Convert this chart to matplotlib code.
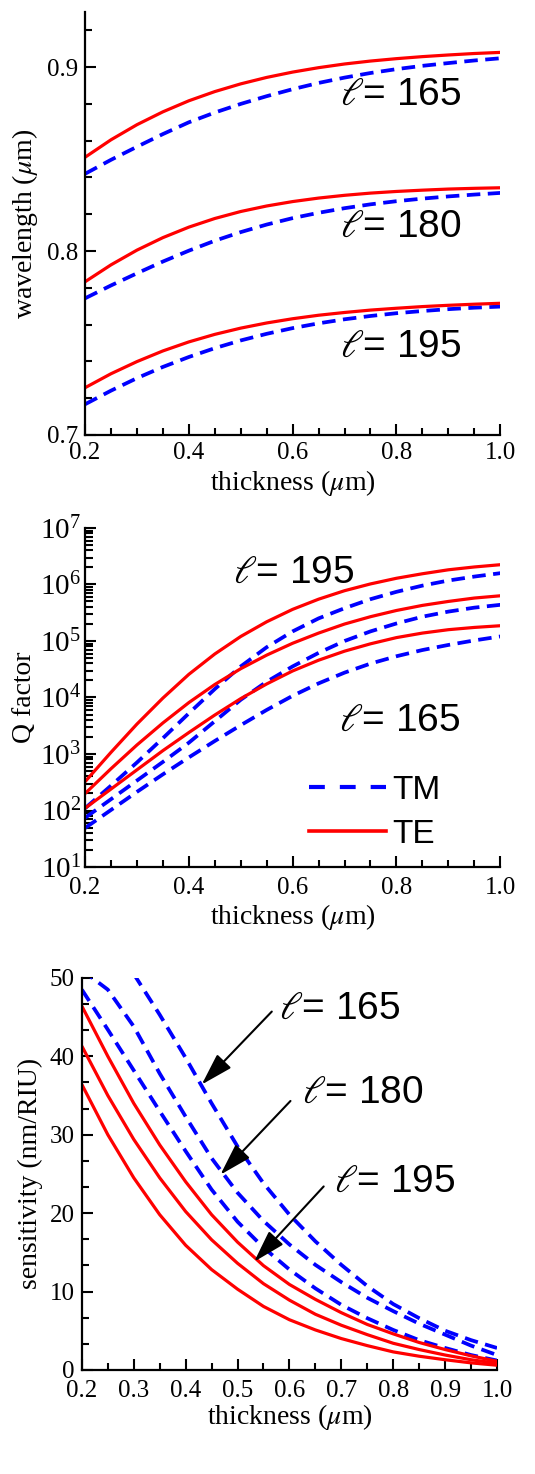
"""
Resonance wavelength, Q factor and sensitivity vs. layer thickness
for TE / TM modes of order l = 165, 180, 195.
"""

import matplotlib
matplotlib.use('Agg')
import matplotlib.pyplot as plt
from matplotlib.lines import Line2D
from matplotlib.ticker import (MultipleLocator, FormatStrFormatter, LogLocator,
                               LogFormatterMathtext, NullFormatter)
import numpy as np

plt.rcParams['font.family'] = 'Liberation Serif'
plt.rcParams['mathtext.fontset'] = 'stix'

# thickness grid (um)
thickness = [0.2, 0.25, 0.3, 0.35, 0.4, 0.45, 0.5, 0.55, 0.6,
             0.65, 0.7, 0.75, 0.8, 0.85, 0.9, 0.95, 1.0]

# --- resonance wavelength (um) ---
wl_te165 = [0.851, 0.8605, 0.8687, 0.8757, 0.8817, 0.8867, 0.8909, 0.8944, 0.8973,
            0.8997, 0.9017, 0.9033, 0.9046, 0.9057, 0.9066, 0.9074, 0.908]
wl_tm165 = [0.842, 0.8496, 0.8567, 0.8636, 0.8700, 0.8753, 0.8800, 0.8842, 0.8880,
            0.8914, 0.8943, 0.8968, 0.8989, 0.9007, 0.9022, 0.9036, 0.9048]
wl_te180 = [0.7833, 0.7925, 0.8005, 0.8073, 0.8130, 0.8177, 0.8215, 0.8245, 0.8269,
            0.8288, 0.8303, 0.8315, 0.8324, 0.8331, 0.8337, 0.8341, 0.8344]
wl_tm180 = [0.7743, 0.7813, 0.7879, 0.7943, 0.8002, 0.8056, 0.8103, 0.8144, 0.8179,
            0.8208, 0.8233, 0.8254, 0.8271, 0.8285, 0.8297, 0.8307, 0.8316]
wl_te195 = [0.7257, 0.7333, 0.7399, 0.7457, 0.7506, 0.7547, 0.7581, 0.7609, 0.7632,
            0.7651, 0.7666, 0.7679, 0.7689, 0.7698, 0.7705, 0.7711, 0.7716]
wl_tm195 = [0.7167, 0.7241, 0.7309, 0.7370, 0.7424, 0.7472, 0.7514, 0.7550, 0.7581,
            0.7607, 0.7629, 0.7647, 0.7662, 0.7674, 0.7684, 0.7692, 0.7698]

# --- Q factor, stored as log10(Q) ---
logq_te195 = [2.51, 3.03, 3.53, 3.99, 4.41, 4.77, 5.08, 5.34, 5.56,
              5.74, 5.89, 6.01, 6.11, 6.19, 6.26, 6.31, 6.35]
logq_tm195 = [2.04, 2.44, 2.85, 3.28, 3.72, 4.15, 4.55, 4.89, 5.17,
              5.40, 5.58, 5.74, 5.87, 5.98, 6.07, 6.14, 6.20]
logq_te180 = [2.30, 2.74, 3.16, 3.55, 3.91, 4.23, 4.51, 4.75, 4.96,
              5.14, 5.30, 5.43, 5.54, 5.63, 5.70, 5.76, 5.80]
logq_tm180 = [1.87, 2.20, 2.53, 2.86, 3.20, 3.58, 3.96, 4.28, 4.55,
              4.79, 5.00, 5.17, 5.31, 5.43, 5.52, 5.59, 5.64]
logq_te165 = [2.04, 2.38, 2.72, 3.06, 3.38, 3.69, 3.98, 4.24, 4.47,
              4.66, 4.82, 4.95, 5.06, 5.14, 5.20, 5.24, 5.27]
logq_tm165 = [1.69, 2.01, 2.33, 2.64, 2.94, 3.23, 3.51, 3.78, 4.03,
              4.25, 4.44, 4.60, 4.73, 4.84, 4.93, 5.01, 5.08]

# --- sensitivity (nm/RIU) ---
sens_te_a = [36.4, 30.0, 24.5, 19.8, 15.9, 12.8, 10.3, 8.1, 6.4,
             5.1, 4.0, 3.1, 2.3, 1.75, 1.3, 0.9, 0.6]
sens_te_b = [41.3, 35.0, 29.4, 24.5, 20.2, 16.6, 13.6, 11.0, 8.9,
             7.1, 5.7, 4.5, 3.4, 2.6, 1.9, 1.3, 0.85]
sens_te_c = [46.4, 40.0, 34.0, 28.7, 24.0, 19.8, 16.3, 13.3, 10.9,
             9.0, 7.3, 5.8, 4.6, 3.5, 2.6, 1.8, 1.1]
sens_tm_a = [48.5, 43.4, 38.2, 33.0, 27.9, 23.0, 18.9, 15.6, 12.8,
             10.4, 8.3, 6.6, 5.1, 3.8, 2.8, 1.9, 1.2]
sens_tm_b = [51.0, 48.5, 43.8, 37.8, 32.3, 27.0, 22.6, 19.0, 16.0,
             13.4, 11.2, 9.2, 7.5, 5.9, 4.5, 3.1, 1.9]
sens_tm_c = [np.nan, np.nan, 50.5, 45.3, 39.8, 34.0, 28.5, 23.8, 19.8,
             16.4, 13.4, 10.7, 8.4, 6.6, 5.0, 3.8, 2.8]

order_labels = ['165', '180', '195']

RED = '#ff0000'
BLUE = '#0000ff'
TE_STYLE = dict(color=RED, lw=2.3, solid_capstyle='butt')
TM_STYLE = dict(color=BLUE, lw=2.7, ls=(0, (3.6, 2.0)), dash_capstyle='butt')
SANS = 'Liberation Sans'
ELL = r'$\ell$= '
TICK_SIZE = 18
LABEL_SIZE = 20
NOTE_SIZE = 28


def style_axes(ax):
    for s in ['top', 'right']:
        ax.spines[s].set_visible(False)
    for s in ['left', 'bottom']:
        ax.spines[s].set_linewidth(1.6)
    ax.tick_params(which='both', direction='in', width=1.5, labelsize=TICK_SIZE,
                   top=False, right=False)
    ax.tick_params(which='major', length=8, pad=5)
    ax.tick_params(which='minor', length=5)


fig = plt.figure(figsize=(5.35, 14.74), dpi=100)
ax1 = fig.add_axes([0.159, 0.7049, 0.776, 0.287])
ax2 = fig.add_axes([0.159, 0.4118, 0.776, 0.230])
ax3 = fig.add_axes([0.153, 0.0706, 0.776, 0.266])

# Top - wavelength
for te, tm in [(wl_te165, wl_tm165), (wl_te180, wl_tm180), (wl_te195, wl_tm195)]:
    ax1.plot(thickness, tm, **TM_STYLE)
    ax1.plot(thickness, te, **TE_STYLE)
ax1.set_xlim(0.2, 1.0)
ax1.set_ylim(0.7, 0.93)
ax1.xaxis.set_major_locator(MultipleLocator(0.2))
ax1.xaxis.set_minor_locator(MultipleLocator(0.05))
ax1.yaxis.set_major_locator(MultipleLocator(0.1))
ax1.yaxis.set_minor_locator(MultipleLocator(0.02))
ax1.xaxis.set_major_formatter(FormatStrFormatter('%.1f'))
ax1.yaxis.set_major_formatter(FormatStrFormatter('%.1f'))
style_axes(ax1)
ax1.set_xlabel(r'thickness ($\mu$m)', fontsize=LABEL_SIZE, labelpad=3)
ax1.set_ylabel(r'wavelength ($\mu$m)', fontsize=LABEL_SIZE, labelpad=5)
for lab, yy in zip(order_labels, [0.8848, 0.8132, 0.748]):
    ax1.text(0.692, yy, ELL + lab, fontsize=NOTE_SIZE, family=SANS, va='center')

# Middle - Q factor
for te, tm in [(logq_te195, logq_tm195), (logq_te180, logq_tm180),
               (logq_te165, logq_tm165)]:
    ax2.plot(thickness, 10 ** np.array(tm), **TM_STYLE)
    ax2.plot(thickness, 10 ** np.array(te), **TE_STYLE)
ax2.set_yscale('log')
ax2.set_xlim(0.2, 1.0)
ax2.set_ylim(1e1, 1e7)
ax2.xaxis.set_major_locator(MultipleLocator(0.2))
ax2.xaxis.set_minor_locator(MultipleLocator(0.05))
ax2.xaxis.set_major_formatter(FormatStrFormatter('%.1f'))
ax2.yaxis.set_major_locator(LogLocator(base=10, numticks=10))
ax2.yaxis.set_minor_locator(LogLocator(base=10, subs=np.arange(2, 10), numticks=20))
ax2.yaxis.set_major_formatter(LogFormatterMathtext())
ax2.yaxis.set_minor_formatter(NullFormatter())
style_axes(ax2)
ax2.tick_params(axis='y', which='major', labelsize=21, pad=3)
ax2.tick_params(axis='y', which='minor', length=6)
ax2.tick_params(axis='x', which='major', pad=7)
ax2.set_xlabel(r'thickness ($\mu$m)', fontsize=LABEL_SIZE, labelpad=2)
ax2.set_ylabel('Q factor', fontsize=LABEL_SIZE, labelpad=2)
ax2.text(0.485, 10 ** 6.2, ELL + '195', fontsize=NOTE_SIZE, family=SANS, va='center')
ax2.text(0.69, 10 ** 3.58, ELL + '165', fontsize=NOTE_SIZE, family=SANS, va='center')
leg_handles = [Line2D([], [], color=BLUE, lw=3.0, ls=(0, (3.8, 3.6))),
               Line2D([], [], color=RED, lw=2.6)]
ax2.legend(leg_handles, ['TM', 'TE'], loc='lower left', bbox_to_anchor=(0.54, 0.05),
           frameon=False, prop=dict(family=SANS, size=24), handlelength=2.3,
           handletextpad=0.2, labelspacing=0.4, borderpad=0, borderaxespad=0)

# Bottom - sensitivity
for tm in [sens_tm_a, sens_tm_b, sens_tm_c]:
    ax3.plot(thickness, tm, **TM_STYLE)
for te in [sens_te_a, sens_te_b, sens_te_c]:
    ax3.plot(thickness, te, **TE_STYLE)
ax3.set_xlim(0.2, 1.0)
ax3.set_ylim(0, 50)
ax3.xaxis.set_major_locator(MultipleLocator(0.1))
ax3.xaxis.set_minor_locator(MultipleLocator(0.05))
ax3.xaxis.set_major_formatter(FormatStrFormatter('%.1f'))
ax3.yaxis.set_major_locator(MultipleLocator(10))
ax3.yaxis.set_minor_locator(MultipleLocator(10 / 3))
style_axes(ax3)
ax3.tick_params(axis='x', which='major', pad=7)
ax3.set_xlabel(r'thickness ($\mu$m)', fontsize=LABEL_SIZE, labelpad=0)
ax3.set_ylabel('sensitivity (nm/RIU)', fontsize=LABEL_SIZE, labelpad=5)

arrow_tails = [(0.566, 45.7), (0.602, 34.3), (0.666, 23.4)]
arrow_heads = [(0.431, 36.4), (0.467, 24.9), (0.532, 13.8)]
label_pos = [(0.579, 46.0), (0.624, 35.3), (0.685, 24.0)]
for lab, tail, head, pos in zip(order_labels, arrow_tails, arrow_heads, label_pos):
    ax3.annotate('', xy=head, xytext=tail,
                 arrowprops=dict(arrowstyle='-|>,head_length=1.0,head_width=0.3',
                                 mutation_scale=20, color='k', lw=1.5,
                                 shrinkA=0, shrinkB=0))
    ax3.text(pos[0], pos[1], ELL + lab, fontsize=NOTE_SIZE, family=SANS, va='center')

fig.savefig('out.png', dpi=100)
